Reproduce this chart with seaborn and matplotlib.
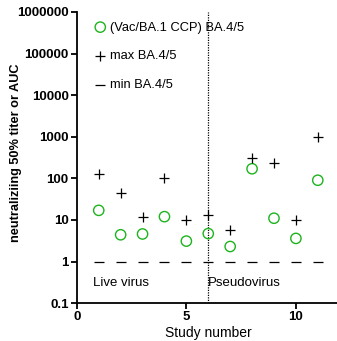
import numpy as np
import pandas as pd
import matplotlib
matplotlib.use('Agg')
import matplotlib.pyplot as plt
import seaborn as sns

# ── Data ─────────────────────────────────────────────────────────────────────
study = [1, 2, 3, 4, 5, 6, 7, 8, 9, 10, 11]
vac_ba1 = [17, 4.4, 4.6, 12, 3.1, 4.7, 2.3, 170, 11, 3.6, 90]
max_ba45 = [130, 45, 12, 100, 10, 13, 5.8, 300, 230, 10, 1000]
min_ba45 = [1, 1, 1, 1, 1, 1, 1, 1, 1, 1, 1]

df = pd.DataFrame({'study': study, 'vac': vac_ba1, 'max': max_ba45, 'min': min_ba45})

sns.set_style('ticks', {'axes.edgecolor': 'black', 'text.color': 'black',
                        'axes.labelcolor': 'black', 'xtick.color': 'black',
                        'ytick.color': 'black'})
plt.rcParams['font.family'] = ['Liberation Sans', 'DejaVu Sans']

fig = plt.figure(figsize=(3.37, 3.41), dpi=100)
ax = fig.add_axes([0.228, 0.111, 0.78, 0.854])

green = '#1db31d'
sns.scatterplot(data=df, x='study', y='vac', ax=ax, marker='o', s=55,
                facecolor='none', edgecolor=green, linewidth=1.0,
                label='(Vac/BA.1 CCP) BA.4/5', zorder=3)
sns.scatterplot(data=df, x='study', y='max', ax=ax, marker='+', s=60,
                color='black', linewidth=0.9, label='max BA.4/5', zorder=3)
sns.scatterplot(data=df, x='study', y='min', ax=ax, marker='_', s=60,
                color='black', linewidth=0.9, label='min BA.4/5', zorder=3)

ax.axvline(6, color='black', linestyle=(0, (1, 1)), linewidth=0.9, zorder=1)

ax.set_yscale('log')
ax.set_ylim(0.1, 1000000)
ax.set_xlim(0, 12)
ax.set_yticks([0.1, 1, 10, 100, 1000, 10000, 100000, 1000000])
ax.set_yticklabels(['0.1', '1', '10', '100', '1000', '10000', '100000', '1000000'])
ax.minorticks_off()
ax.set_xticks([0, 5, 10])

for lab in ax.get_xticklabels() + ax.get_yticklabels():
    lab.set_fontweight('bold')
    lab.set_fontsize(9.5)
ax.tick_params(axis='both', which='major', length=4, width=1.3, pad=2)

ax.set_xlabel('Study number', fontsize=10, labelpad=2)
ax.set_ylabel('neutraliziing 50% titer or AUC', fontsize=9.2, fontweight='bold')
ax.yaxis.set_label_coords(-0.21, 0.515)

for sp in ['left', 'bottom']:
    ax.spines[sp].set_linewidth(1.3)
sns.despine(ax=ax)

ax.text(0.72, 0.3, 'Live virus', fontsize=9.5, va='center', ha='left')
ax.text(5.97, 0.3, 'Pseudovirus', fontsize=9.5, va='center', ha='left')

ax.legend(loc='upper left', bbox_to_anchor=(0.04, 0.985), frameon=False,
          fontsize=9.3, handletextpad=0.15, labelspacing=1.3, borderaxespad=0,
          handlelength=1.2)

fig.savefig('out.png', dpi=100, facecolor='white')
